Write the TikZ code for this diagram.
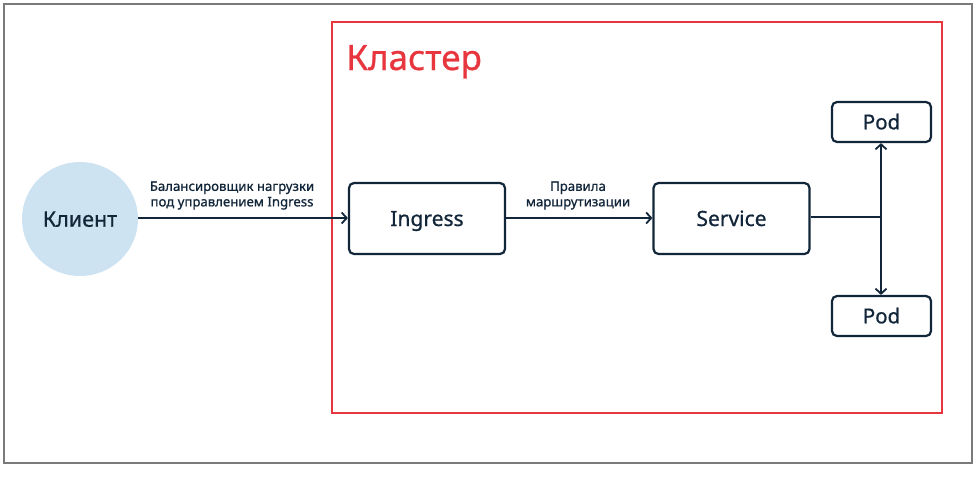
\documentclass[tikz,border=0pt]{standalone}
\usepackage{fontspec}
\setmainfont{Noto Sans}[BoldFont={Noto Sans}, BoldFeatures={FakeBold=0.8}]
\usetikzlibrary{arrows.meta,shapes.geometric}
\definecolor{ink}{HTML}{12263A}
\definecolor{clred}{HTML}{E8363F}
\definecolor{clblue}{HTML}{CDE3F1}
\definecolor{frame}{HTML}{7A7A7A}
\tikzset{
  box/.style={draw=ink, line width=2.2pt, rounded corners=5pt, minimum width=156pt, minimum height=71pt, inner sep=0pt, text=ink, font=\fontsize{21}{25}\selectfont\bfseries, text height=15pt, text depth=0pt},
  podbox/.style={draw=ink, line width=2.2pt, rounded corners=5pt, minimum width=99pt, minimum height=40pt, inner sep=0pt, text=ink, font=\fontsize{20.5}{24}\selectfont\bfseries, text height=14.6pt, text depth=0pt},
  conn/.style={draw=ink, line width=2pt, -{Straight Barb[length=5pt,width=11pt,line width=1.8pt]}},
  lbl/.style={text=ink, font=\fontsize{13.2}{15.5}\selectfont\bfseries, align=center, inner sep=0pt}
}
\begin{document}
\begin{tikzpicture}[x=1pt,y=-1pt]
\useasboundingbox (0,0) rectangle (974,493);
\fill[white] (0,0) rectangle (974,493);
\draw[frame, line width=1.5pt] (4,4) rectangle (972,463);
\draw[clred, line width=1.6pt] (332,22) rectangle (942,413);
\node[anchor=base west, text=clred, font=\fontsize{35}{40}\selectfont\bfseries, inner sep=0pt] (cl) at (346,70) {Кластер};
\node[ellipse, fill=clblue, minimum width=116pt, minimum height=114pt, inner sep=0pt, text=ink, font=\fontsize{21.5}{25}\selectfont\bfseries, text height=15.4pt, text depth=0pt] (client) at (80,219) {Клиент};
\node[box] (ing) at (427,218.5) {Ingress};
\node[box] (svc) at (731.5,218.5) {Service};
\node[podbox] (pod1) at (881.5,122) {Pod};
\node[podbox] (pod2) at (881.5,316) {Pod};
\coordinate (j) at (881,217);
\draw[conn] (client.east |- 0,218) -- (ing.west |- 0,218);
\draw[conn] (ing.east |- 0,218) -- (svc.west |- 0,218);
\draw[draw=ink, line width=2pt] (svc.east |- j) -- (j);
\draw[conn] (j) -- (j |- pod1.south);
\draw[conn] (j) -- (j |- pod2.north);
\node[lbl] (l1) at (232,195.5) {Балансировщик нагрузки\\под управлением Ingress};
\node[lbl] (l2) at (578,195.5) {Правила\\маршрутизации};
\end{tikzpicture}
\end{document}
